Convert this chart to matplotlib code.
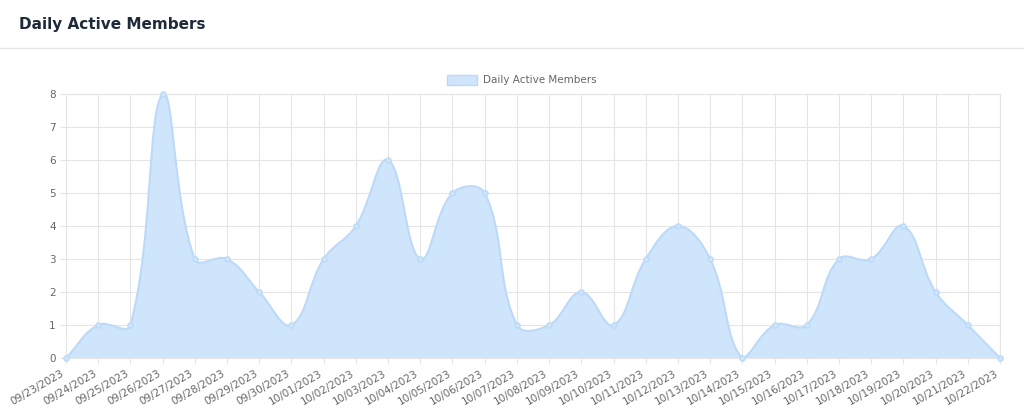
import matplotlib
matplotlib.use("Agg")
import matplotlib.pyplot as plt
import numpy as np
from matplotlib.path import Path
from matplotlib.patches import PathPatch

dates = ["09/23/2023","09/24/2023","09/25/2023","09/26/2023","09/27/2023","09/28/2023","09/29/2023","09/30/2023",
         "10/01/2023","10/02/2023","10/03/2023","10/04/2023","10/05/2023","10/06/2023","10/07/2023","10/08/2023",
         "10/09/2023","10/10/2023","10/11/2023","10/12/2023","10/13/2023","10/14/2023","10/15/2023","10/16/2023",
         "10/17/2023","10/18/2023","10/19/2023","10/20/2023","10/21/2023","10/22/2023"]
members = [0,1,1,8,3,3,2,1,3,4,6,3,5,5,1,1,2,1,3,4,3,0,1,1,3,3,4,2,1,0]

fig = plt.figure(figsize=(10.24,4.16), dpi=100)
fig.patch.set_facecolor("white")
fig.text(19/1024, 1-25/416, "Daily Active Members", fontsize=11, fontweight="bold", color="#1e2a3a", va="center")
fig.add_artist(plt.Line2D([0,1],[1-48/416]*2, color="#e8e8e8", lw=1))

ax = fig.add_axes([66/1024, 58/416, 934/1024, 264/416])
n = len(members)
x = np.arange(n, dtype=float)
y = np.array(members, dtype=float)
sx, sy = 934/(n-1), 264/8.0
px, py = x*sx, y*sy
t = 0.4
cp1 = np.zeros((n,2)); cp2 = np.zeros((n,2))
for i in range(n):
    p = (px[max(i-1,0)], py[max(i-1,0)]); c = (px[i], py[i]); q = (px[min(i+1,n-1)], py[min(i+1,n-1)])
    d01 = np.hypot(c[0]-p[0], c[1]-p[1]); d12 = np.hypot(q[0]-c[0], q[1]-c[1])
    s01 = d01/(d01+d12) if d01+d12 else 0; s12 = d12/(d01+d12) if d01+d12 else 0
    fa, fb = t*s01, t*s12
    cp1[i] = (c[0]-fa*(q[0]-p[0]), c[1]-fa*(q[1]-p[1]))
    cp2[i] = (c[0]+fb*(q[0]-p[0]), c[1]+fb*(q[1]-p[1]))
verts = [(px[0], py[0])]; codes = [Path.MOVETO]
for i in range(n-1):
    verts += [tuple(cp2[i]), tuple(cp1[i+1]), (px[i+1], py[i+1])]
    codes += [Path.CURVE4]*3
verts = [(vx/sx, max(vy,0)/sy) for vx, vy in verts]
line = Path(verts, codes)
fverts = verts + [(x[-1],0),(0,0),(0,0)]
fcodes = codes + [Path.LINETO, Path.LINETO, Path.CLOSEPOLY]
ax.add_patch(PathPatch(Path(fverts, fcodes), facecolor="#cfe5fb", edgecolor="none", zorder=2))
ax.add_patch(PathPatch(line, facecolor="none", edgecolor="#bcdaf7", lw=1.5, zorder=3))
ax.scatter(x, y, s=14, color="#cfe5fb", edgecolors="#bcdaf7", zorder=4, clip_on=False)

ax.set_xlim(0, n-1); ax.set_ylim(0, 8)
ax.set_xticks(x); ax.set_xticklabels(dates, rotation=30, ha="right", fontsize=7.5, color="#666")
ax.set_yticks(range(9)); ax.tick_params(axis="y", labelsize=7.5, labelcolor="#666")
ax.tick_params(length=4, color="#e5e5e5")
ax.grid(True, color="#e5e5e5", lw=0.8, zorder=0)
ax.set_axisbelow(True)
for s in ax.spines.values(): s.set_color("#e5e5e5")

fig.patches.append(plt.Rectangle((447/1024, 1-85/416), 30/1024, 10/416, transform=fig.transFigure,
                                 facecolor="#cfe5fb", edgecolor="#bcdaf7", lw=1))
fig.text(483/1024, 1-80/416, "Daily Active Members", fontsize=7.5, color="#666", va="center")
fig.savefig("out.png", dpi=100)
